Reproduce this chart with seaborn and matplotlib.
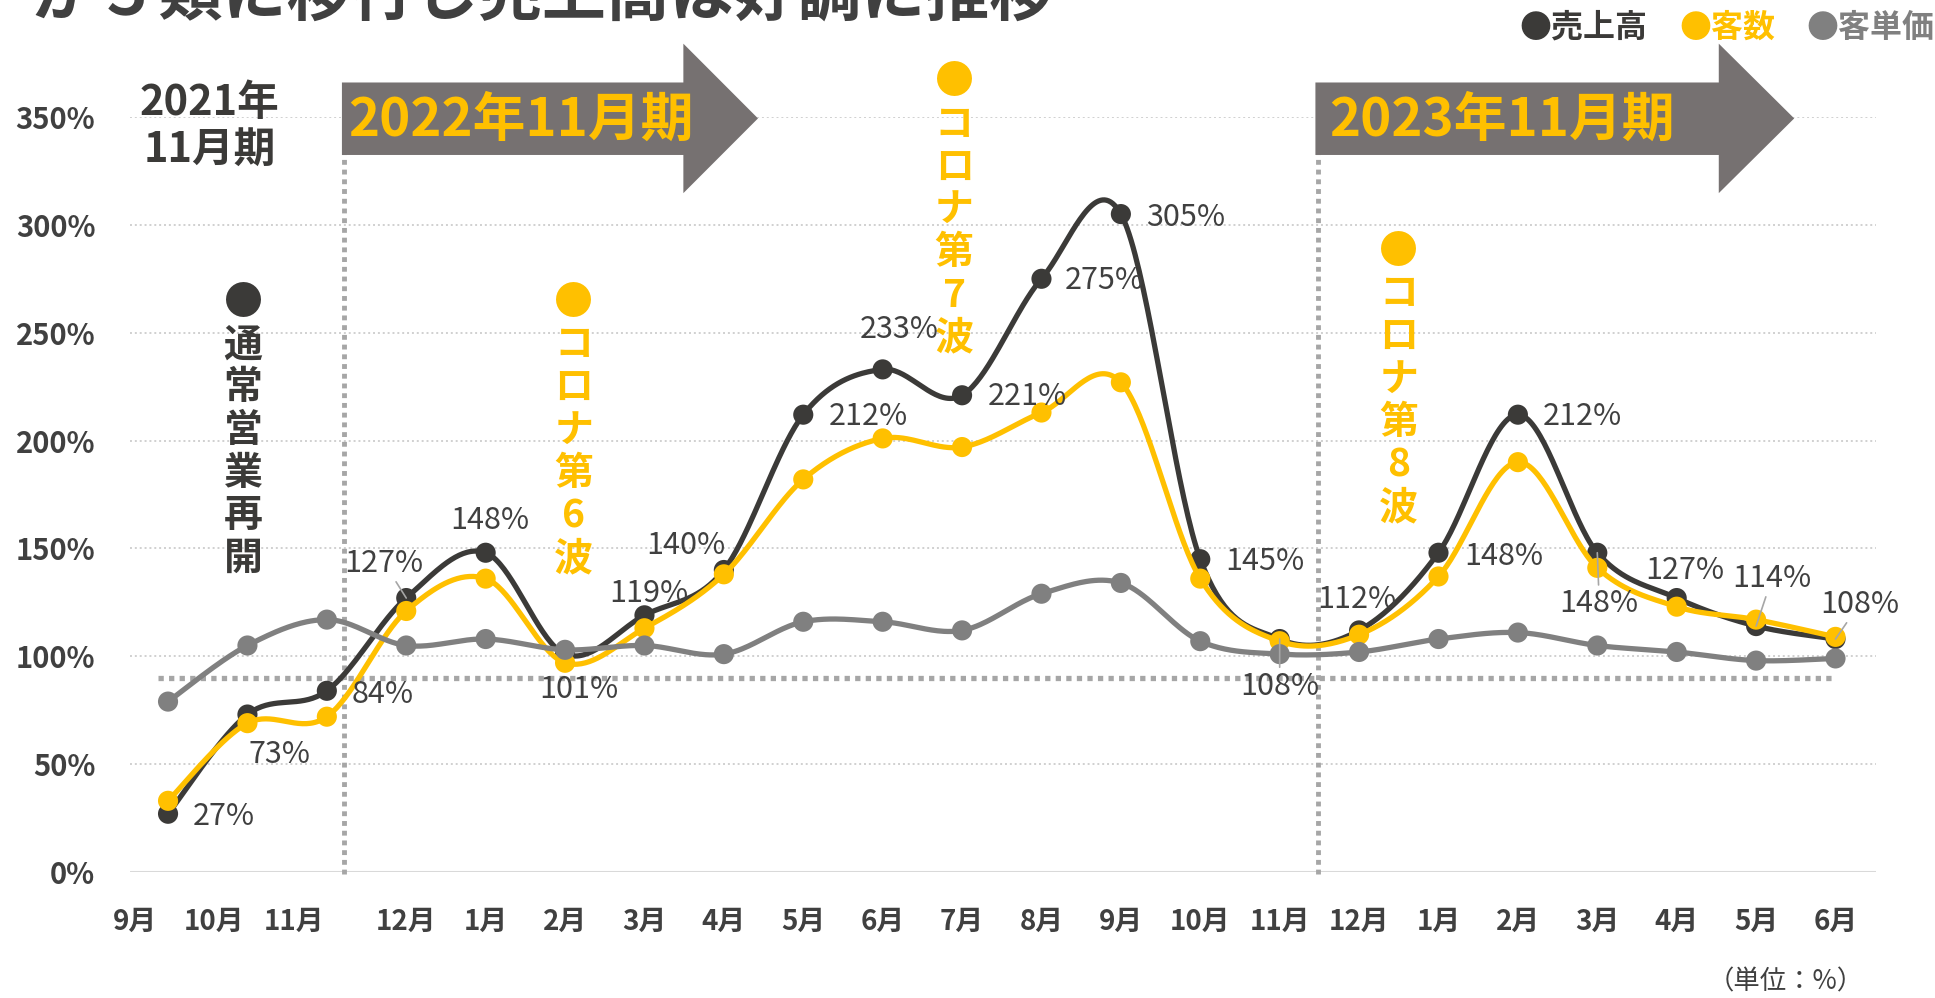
import numpy as np
import pandas as pd
import seaborn as sns
import matplotlib.pyplot as plt
from matplotlib.patches import Polygon
from matplotlib import transforms

# x axis: Sep 2021 - Jun 2023
months = ["9月", "10月", "11月", "12月", "1月", "2月", "3月", "4月", "5月", "6月", "7月",
          "8月", "9月", "10月", "11月", "12月", "1月", "2月", "3月", "4月", "5月", "6月"]

# 前年比 (%)
sales = [27, 73, 84, 127, 148, 101, 119, 140, 212, 233, 221, 275, 305, 145, 108,
         112, 148, 212, 148, 127, 114, 108]
customers = [33, 69, 72, 121, 136, 97, 113, 138, 182, 201, 197, 213, 227, 136, 107,
             110, 137, 190, 141, 123, 117, 109]
unit_price = [79, 105, 117, 105, 108, 103, 105, 101, 116, 116, 112, 129, 134, 107, 101,
              102, 108, 111, 105, 102, 98, 99]

yticks = [0, 50, 100, 150, 200, 250, 300, 350]
baseline = 90

DARK = "#3b3a38"
YELLOW = "#ffc000"
GRAY = "#808080"
ARROW = "#767171"
TXT = "#404040"

sns.set_theme(style="white")
plt.rcParams['font.family'] = ['Noto Sans CJK JP', 'DejaVu Sans']


# excel-like smoothed line (bezier through the points)
def smooth(vals, n=40):
    y = np.asarray(vals, dtype=float)
    x = np.arange(len(y), dtype=float)
    P = np.column_stack([x, y])
    P = np.vstack([P[0], P, P[-1]])
    t = np.linspace(0, 1, n)[:, None]
    out = []
    for i in range(1, len(P) - 2):
        p0, p3 = P[i], P[i + 1]
        c1 = p0 + (p3 - P[i - 1]) / 6
        c2 = p3 - (P[i + 2] - p0) / 6
        seg = (1 - t) ** 3 * p0 + 3 * (1 - t) ** 2 * t * c1 + 3 * (1 - t) * t ** 2 * c2 + t ** 3 * p3
        out.append(seg if i == 1 else seg[1:])
    out = np.vstack(out)
    return pd.DataFrame({"x": out[:, 0], "y": out[:, 1]})


fig = plt.figure(figsize=(19.35, 9.98), dpi=100)
ax = fig.add_axes([130 / 1935, 1 - 872 / 998, 1746 / 1935, 755 / 998])
ax.set_xlim(-0.479, 21.51)
ax.set_ylim(0, 350)
for s in ax.spines.values():
    s.set_visible(False)

# grid
for v in yticks[1:]:
    ax.axhline(v, color="#d0d0d0", lw=1.4, ls=(0, (1, 1.5)), zorder=0)
ax.axhline(0, color="#d9d9d9", lw=2.2, zorder=0)

# period separators and 90% line
ax.plot([2.22, 2.22], [-1, 350], color="#a6a6a6", lw=3.5, ls=(0, (1, 1)), clip_on=False, zorder=1)
ax.plot([14.48, 14.48], [-1, 333], color="#a6a6a6", lw=3.5, ls=(0, (1, 1)), clip_on=False, zorder=1)
ax.plot([-0.13, 21.0], [baseline, baseline], color="#a6a6a6", lw=3.8, ls=(0, (1, 1)), zorder=1)

# series: sales at the back, customers, then unit price on top
idx = np.arange(len(months))
for vals, col, z in [(sales, DARK, 3), (customers, YELLOW, 4), (unit_price, GRAY, 5)]:
    sns.lineplot(data=smooth(vals), x="x", y="y", sort=False, estimator=None,
                 color=col, lw=3.8, ax=ax, zorder=z)
    sns.scatterplot(x=idx, y=vals, s=210, color=col, edgecolor="none", ax=ax, zorder=z + 0.5)

# data labels for sales
label_offsets = [(56, -3), (32, -40), (56, -4), (-22, 35), (4, 32), (14, -35), (4, 22),
                 (-38, 24), (65, -2), (17, 40), (65, -1), (63, -2), (65, -3), (65, -2),
                 (0, -47), (-2, 31), (65, -4), (64, -2), (2, -51), (8, 28), (16, 48), (24, 35)]
leaders = {3, 14, 18, 20, 21}
for i, (v, (dx, dy)) in enumerate(zip(sales, label_offsets)):
    kw = {}
    if i in leaders:
        kw["arrowprops"] = dict(arrowstyle="-", color="#a6a6a6", lw=1.2, shrinkA=0, shrinkB=0)
    ax.annotate(f"{v}%", xy=(i, v), xytext=(dx, dy), textcoords="offset pixels",
                ha="center", va="center", fontsize=22, color=TXT, zorder=8, **kw)

# period arrows
def arrow(x0, xb, xt, yb0=332.4, yb1=366, yh0=314.7, yh1=384):
    pts = [(x0, yb0), (xb, yb0), (xb, yh0), (xt, (yh0 + yh1) / 2), (xb, yh1), (xb, yb1), (x0, yb1)]
    ax.add_patch(Polygon(pts, closed=True, facecolor=ARROW, edgecolor="none",
                         clip_on=False, zorder=6))

arrow(2.19, 6.49, 7.43)
arrow(14.45, 19.53, 20.48)
ax.text(2.27, 348.6, "2022年11月期", ha="left", va="center", fontsize=38,
        fontweight="bold", color=YELLOW, zorder=7, clip_on=False)
ax.text(14.62, 348.6, "2023年11月期", ha="left", va="center", fontsize=38,
        fontweight="bold", color=YELLOW, zorder=7, clip_on=False)
ax.text(0.52, 345.8, "2021年\n11月期", ha="center", va="center", fontsize=30,
        fontweight="bold", color=DARK, linespacing=1.15, clip_on=False)

# vertical notes
notes = [(0.945, 263.8, "通常営業再開", DARK),
         (5.11, 263.8, "コロナ第6波", YELLOW),
         (9.9, 366.0, "コロナ第7波", YELLOW),
         (15.5, 287.4, "コロナ第8波", YELLOW)]
for x, y, txt, col in notes:
    ax.annotate("●", xy=(x, y), xytext=(0, 0), textcoords="offset pixels", ha="center",
                va="center", fontsize=28, color=col, annotation_clip=False, zorder=7)
    for k, ch in enumerate(txt):
        ax.annotate(ch, xy=(x, y), xytext=(0, -42 - 42.7 * k), textcoords="offset pixels",
                    ha="center", va="center", fontsize=28, fontweight="bold", color=col,
                    annotation_clip=False, zorder=7)

# axes ticks
ax.set_yticks(yticks)
ax.set_yticklabels([f"{v}%" for v in yticks])
ax.set_xticks(idx)
ax.set_xticklabels(months)
ax.tick_params(axis="y", length=0, pad=25, labelsize=21, labelcolor=TXT)
ax.tick_params(axis="x", length=0, pad=26, labelsize=20, labelcolor=TXT)
for lab in ax.get_yticklabels() + ax.get_xticklabels():
    lab.set_fontweight("bold")
shift = transforms.ScaledTranslation(-33 / 100, 0, fig.dpi_scale_trans)
for lab in ax.get_xticklabels()[:3]:
    lab.set_transform(lab.get_transform() + shift)
ax.set_xlabel("")
ax.set_ylabel("")

# title (cut off at the top like the source)
fig.text(32 / 1935, 1 + 4 / 998, "が５類に移行し売上高は好調に推移", ha="left", va="center",
         fontsize=46, fontweight="bold", color=TXT)

# legend
for xpos, name, col in [(1519, "●売上高", DARK), (1679, "●客数", YELLOW), (1806, "●客単価", GRAY)]:
    fig.text(xpos / 1935, 1 - 28 / 998, name, ha="left", va="center", fontsize=23,
             fontweight="bold", color=col)

fig.text(1864 / 1935, 1 - 982 / 998, "（単位：%）", ha="right", va="center", fontsize=19, color=TXT)

fig.savefig("out.png", dpi=100)
